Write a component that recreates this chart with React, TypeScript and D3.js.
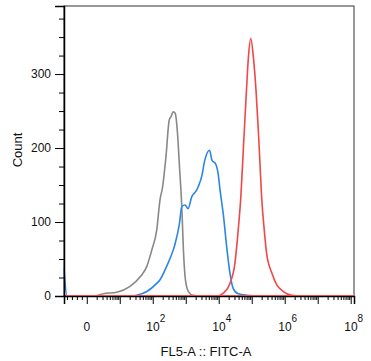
import React, { useEffect, useRef } from "react";
import * as d3 from "d3";

// x positions are in decades (log10 of FITC-A), counts per bin
const grayLog = [-0.69, 0.25, 0.5, 0.91, 1.31, 1.62, 1.82, 1.97, 2.12, 2.22, 2.3, 2.4, 2.5, 2.55, 2.62, 2.68, 2.75, 2.81, 2.88, 2.93, 2.99, 3.08, 3.22, 3.43, 8.1];
const grayCount = [0, 0, 3, 5, 13, 26, 40, 62, 89, 130, 148, 188, 238, 242, 249, 247, 220, 175, 121, 62, 22, 6, 1, 0, 0];

const blueLog = [-0.69, -0.6, 1.31, 1.52, 1.82, 2.12, 2.22, 2.42, 2.62, 2.68, 2.81, 2.88, 2.98, 3.07, 3.18, 3.33, 3.38, 3.48, 3.58, 3.72, 3.8, 3.9, 3.98, 4.04, 4.14, 4.24, 4.34, 4.44, 4.59, 4.85, 5.25, 8.1];
const blueCount = [37, 0, 0, 1, 6, 17, 22, 40, 62, 71, 98, 121, 123, 118, 134, 143, 148, 161, 184, 197, 183, 179, 166, 143, 110, 67, 31, 10, 3, 1, 0, 0];

const redLog = [-0.69, 3.94, 4.14, 4.34, 4.49, 4.59, 4.67, 4.75, 4.83, 4.9, 4.97, 5.05, 5.13, 5.2, 5.25, 5.3, 5.38, 5.45, 5.61, 5.76, 5.96, 6.21, 6.47, 8.1];
const redCount = [0, 0, 4, 17, 44, 89, 134, 202, 269, 323, 348, 323, 278, 224, 179, 134, 89, 58, 31, 15, 6, 1, 0, 0];

const yMajor = [0, 100, 200, 300];
const yMinor = [25, 50, 75, 125, 150, 175, 225, 250, 275, 325, 350, 375];
const xMajor = [0, 1, 2, 3, 4, 5, 6, 7, 8];
const xLabels = [
  { d: 0, base: "0", sup: "" },
  { d: 2, base: "10", sup: "2" },
  { d: 4, base: "10", sup: "4" },
  { d: 6, base: "10", sup: "6" },
  { d: 8, base: "10", sup: "8" },
];

function App() {
  const chart = useRef<SVGSVGElement>(null);

  useEffect(() => {
    const width = 371;
    const height = 361;
    const left = 64, right = 354, top = 6, bottom = 296;
    const font = "Liberation Sans, Arial, sans-serif";

    const svg = d3.select(chart.current)
      .attr("width", width)
      .attr("height", height)
      .style("position", "absolute")
      .style("left", 0)
      .style("top", 0)
      .style("font-family", font);

    const x = d3.scaleLinear().domain([-0.69, 8.1]).range([left, right]);
    const y = d3.scaleLinear().domain([0, 392]).range([bottom, top]);

    // minor x ticks: evenly spaced below 0, log spaced above
    const xMinor: number[] = [-0.6, -0.45, -0.3, -0.15];
    for (let dec = 0; dec < 8; dec++) {
      for (let k = 2; k <= 9; k++) xMinor.push(dec + Math.log10(k));
    }

    // frame
    svg.append("rect")
      .attr("x", left).attr("y", top)
      .attr("width", right - left).attr("height", bottom - top)
      .attr("fill", "none").attr("stroke", "#333").attr("stroke-width", 1);

    // curves
    const line = d3.line<[number, number]>()
      .x(d => x(d[0]))
      .y(d => y(d[1]))
      .curve(d3.curveMonotoneX);

    const series = [
      { xs: grayLog, ys: grayCount, color: "#888888" },
      { xs: blueLog, ys: blueCount, color: "#2a86e6" },
      { xs: redLog, ys: redCount, color: "#f04848" },
    ];
    series.forEach(s => {
      svg.append("path")
        .datum(s.xs.map((v, i) => [v, s.ys[i]] as [number, number]))
        .attr("d", line)
        .attr("fill", "none")
        .attr("stroke", s.color)
        .attr("stroke-width", 1.6)
        .attr("stroke-linejoin", "round");
    });

    // y axis
    const yAxis = svg.append("g").attr("transform", `translate(${left},0)`);
    yAxis.call(d3.axisLeft(y).tickValues(yMajor).tickSize(9).tickPadding(4) as any);
    svg.append("g").attr("transform", `translate(${left},0)`)
      .call(d3.axisLeft(y).tickValues(yMinor).tickSize(5).tickFormat(() => "") as any)
      .select(".domain").remove();
    yAxis.select(".domain").attr("stroke", "#000").attr("stroke-width", 1.5);
    yAxis.selectAll("text").attr("font-size", 12).attr("font-family", font).attr("fill", "#111");

    // x axis
    const xAxis = svg.append("g").attr("transform", `translate(0,${bottom})`);
    xAxis.call(d3.axisBottom(x).tickValues(xMajor).tickSize(8).tickFormat(() => "") as any);
    svg.append("g").attr("transform", `translate(0,${bottom})`)
      .call(d3.axisBottom(x).tickValues(xMinor).tickSize(4).tickFormat(() => "") as any)
      .select(".domain").remove();
    xAxis.select(".domain").attr("stroke", "#000").attr("stroke-width", 1.5);
    svg.selectAll(".tick line").attr("stroke", "#000");

    // red baseline runs over the axis, redraw red on top
    svg.append("line")
      .attr("x1", left + 2).attr("x2", right)
      .attr("y1", bottom - 0.5).attr("y2", bottom - 0.5)
      .attr("stroke", "#f04848").attr("stroke-width", 1.2);

    xLabels.forEach(l => {
      const t = svg.append("text")
        .attr("x", x(l.d))
        .attr("y", 331)
        .attr("text-anchor", "middle")
        .attr("font-size", 12)
        .attr("fill", "#111");
      t.append("tspan").text(l.base);
      if (l.sup) {
        t.append("tspan").attr("dy", -9).attr("font-size", 10).text(l.sup);
      }
      if (l.sup) t.attr("x", x(l.d) + 3);
    });

    // axis titles
    svg.append("text")
      .attr("transform", "translate(22,150) rotate(-90)")
      .attr("text-anchor", "middle")
      .attr("font-size", 13)
      .attr("fill", "#111")
      .text("Count");
    svg.append("text")
      .attr("x", 206)
      .attr("y", 356)
      .attr("text-anchor", "middle")
      .attr("font-size", 13)
      .attr("fill", "#111")
      .text("FL5-A :: FITC-A");

    return () => {
      svg.selectAll("*").remove();
    };
  }, []);

  return <svg ref={chart}></svg>;
}

export default App;
